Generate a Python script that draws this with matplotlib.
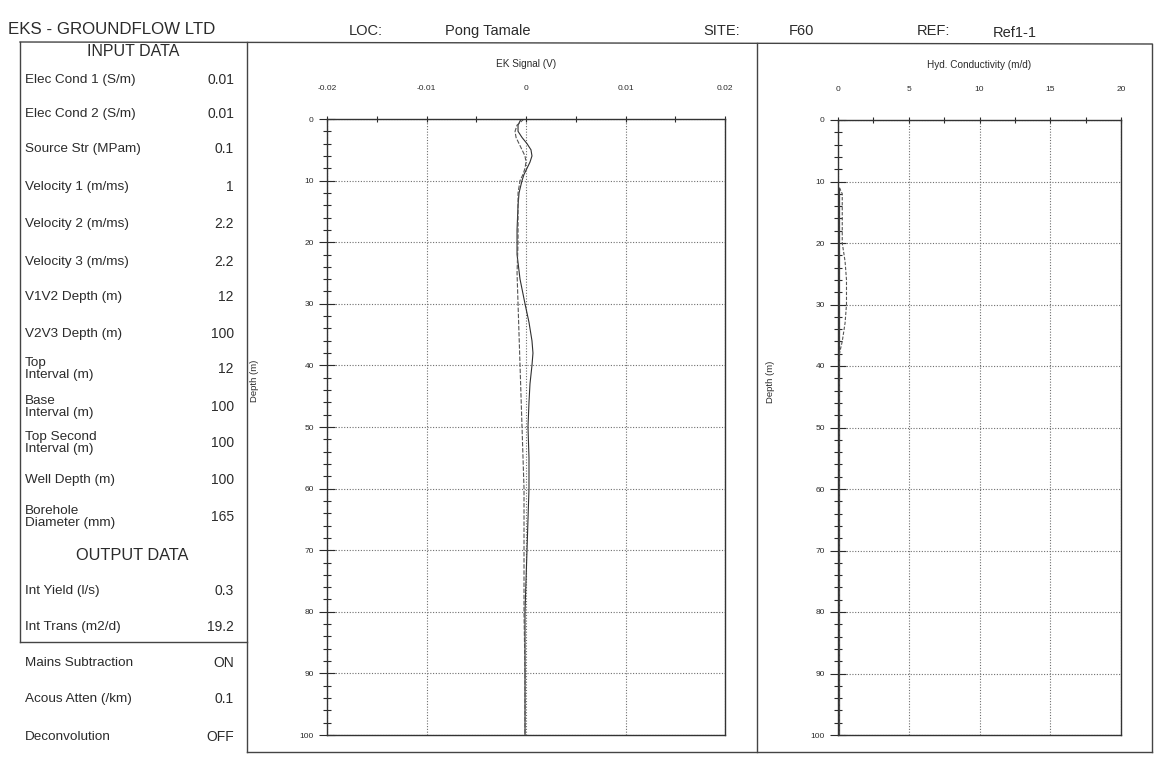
import matplotlib
matplotlib.use("Agg")
import matplotlib.pyplot as plt
from matplotlib.lines import Line2D
from matplotlib.ticker import MultipleLocator

# ---------------- data ----------------
company = "EKS - GROUNDFLOW LTD"
header_keys = ["LOC:", "SITE:", "REF:"]
header_vals = ["Pong Tamale", "F60", "Ref1-1"]

input_labels = ["Elec Cond 1 (S/m)", "Elec Cond 2 (S/m)", "Source Str (MPam)",
                "Velocity 1 (m/ms)", "Velocity 2 (m/ms)", "Velocity 3 (m/ms)",
                "V1V2 Depth (m)", "V2V3 Depth (m)", "Top\nInterval (m)",
                "Base\nInterval (m)", "Top Second\nInterval (m)", "Well Depth (m)",
                "Borehole\nDiameter (mm)"]
input_values = ["0.01", "0.01", "0.1", "1", "2.2", "2.2", "12", "100", "12",
                "100", "100", "100", "165"]
output_labels = ["Int Yield (l/s)", "Int Trans (m2/d)"]
output_values = ["0.3", "19.2"]
setting_labels = ["Mains Subtraction", "Acous Atten (/km)", "Deconvolution"]
setting_values = ["ON", "0.1", "OFF"]

ek_ticks = [-0.02, -0.01, 0, 0.01, 0.02]
hk_ticks = [0, 5, 10, 15, 20]
depth_ticks = [0, 10, 20, 30, 40, 50, 60, 70, 80, 90, 100]

# EK signal (V) vs depth (m) - solid trace
ek_depth_a = [0, 1, 2, 3, 4, 5, 6, 7, 8, 9, 10, 12, 14, 18, 22, 26, 30, 33, 36,
              38, 40, 43, 46, 50, 55, 60, 65, 70, 75, 80, 85, 90, 95, 100]
ek_sig_a = [-0.0005, -0.0008, -0.0008, -0.0004, 0.0001, 0.0005, 0.0006, 0.0004,
            0.0001, -0.0002, -0.0004, -0.0007, -0.0008, -0.0009, -0.0009, -0.0006,
            -0.0001, 0.0003, 0.0006, 0.0007, 0.0006, 0.0004, 0.0003, 0.0002,
            0.0003, 0.0003, 0.0002, 0.0001, 0.0000, -0.0001, -0.0001, -0.0001,
            -0.0001, -0.0001]
# EK signal - dashed trace
ek_depth_b = [0, 1, 2, 3, 4, 5, 6, 7, 8, 9, 10, 12, 15, 20, 25, 30, 35, 40, 45,
              50, 55, 60, 70, 80, 90, 100]
ek_sig_b = [-0.0002, -0.0009, -0.0011, -0.0010, -0.0007, -0.0004, -0.0001, 0.0000,
            -0.0001, -0.0003, -0.0006, -0.0008, -0.0008, -0.0008, -0.0009, -0.0008,
            -0.0007, -0.0006, -0.0005, -0.0004, -0.0003, -0.0002, -0.0002, -0.0002,
            -0.0001, -0.0001]

# Hydraulic conductivity (m/d) vs depth (m)
hk_depth_a = [11, 12, 20, 30, 40, 50, 60, 70, 80, 90, 100]
hk_a = [0.1, 0.1, 0.1, 0.1, 0.1, 0.1, 0.1, 0.1, 0.1, 0.1, 0.1]
hk_depth_b = [11, 12, 16, 20, 23, 26, 30, 33, 36, 38, 40, 50, 60, 70, 80, 90, 100]
hk_b = [0.1, 0.3, 0.3, 0.3, 0.5, 0.6, 0.6, 0.5, 0.3, 0.1, 0.1, 0.1, 0.1, 0.1,
        0.1, 0.1, 0.1]

# ---------------- figure ----------------
W, H = 1160, 767
fig = plt.figure(figsize=(W / 100, H / 100), dpi=100)
fig.patch.set_facecolor("white")

PANEL_FONT = ["Liberation Sans", "DejaVu Sans"]
CHART_FONT = ["Liberation Sans", "DejaVu Sans"]
INK = "#2b2b2b"


def fx(x):
    return x / W


def fy(y):
    return 1 - y / H


def line(x0, y0, x1, y1, lw=1.0, color="#444444"):
    fig.add_artist(Line2D([fx(x0), fx(x1)], [fy(y0), fy(y1)],
                          transform=fig.transFigure, lw=lw, color=color))


def txt(x, y, s, size, ha="left", va="center", **kw):
    fig.text(fx(x), fy(y), s, fontsize=size, ha=ha, va=va, color=INK,
             family=PANEL_FONT, linespacing=1.0, **kw)


# frame lines
line(20, 42, 1152, 44)          # top line
line(20, 42, 20, 642)           # input box left
line(20, 642, 247, 642)         # input box bottom
line(247, 42, 247, 752)         # EK panel left
line(247, 752, 1152, 752)       # bottom line
line(757, 43, 757, 752)         # divider
line(1152, 44, 1152, 752)       # right edge

# header
txt(8, 30, company, 12.2)
txt(349, 31, header_keys[0], 10.5)
txt(445, 31, header_vals[0], 10.5)
txt(703, 31, header_keys[1], 10.5)
txt(789, 31, header_vals[1], 10.5)
txt(917, 31, header_keys[2], 10.5)
txt(993, 33, header_vals[2], 10.5)

# input / output panel
txt(133, 52, "INPUT DATA", 11.5, ha="center")
in_rows = [80, 114, 149, 187, 224, 262, 297, 334, 369, 407, 443, 480, 517]
for lab, val, y in zip(input_labels, input_values, in_rows):
    txt(25, y, lab, 9.7)
    txt(234, y, val, 10, ha="right")
txt(132, 556, "OUTPUT DATA", 11.8, ha="center")
for lab, val, y in zip(output_labels, output_values, [591, 627]):
    txt(25, y, lab, 9.7)
    txt(234, y, val, 10, ha="right")
for lab, val, y in zip(setting_labels, setting_values, [663, 699, 737]):
    txt(25, y, lab, 9.7)
    txt(234, y, val, 10, ha="right")


def make_axes(x0, x1, y0, y1):
    return fig.add_axes([fx(x0), fy(y1), fx(x1) - fx(x0), (y1 - y0) / H])


def style_axes(ax, xticks, xminor, title, ylab_x):
    ax.set_ylim(100, 0)
    ax.set_xlim(xticks[0], xticks[-1])
    ax.xaxis.tick_top()
    ax.xaxis.set_label_position("top")
    ax.set_xticks(xticks)
    ax.set_xticklabels([("%g" % t) for t in xticks], family=CHART_FONT)
    ax.xaxis.set_minor_locator(MultipleLocator(xminor))
    ax.set_yticks(depth_ticks)
    ax.set_yticklabels([str(t) for t in depth_ticks], family=CHART_FONT)
    ax.yaxis.set_minor_locator(MultipleLocator(2))
    ax.tick_params(axis="x", which="both", direction="inout", length=4.5,
                   width=0.8, colors=INK, labelsize=6, pad=17)
    ax.tick_params(axis="y", which="major", direction="inout", length=11,
                   width=0.8, colors=INK, labelsize=6, pad=4)
    ax.tick_params(axis="y", which="minor", direction="inout", length=5.5,
                   width=0.8, colors=INK)
    for sp in ax.spines.values():
        sp.set_color("#333333")
        sp.set_linewidth(1.0)
    ax.grid(True, which="major", linestyle=(0, (1, 1.5)), color="#6f6f6f",
            linewidth=0.8)
    ax.set_xlabel(title, fontsize=7.2, family=CHART_FONT, color=INK)
    ax.xaxis.set_label_coords(0.5, 1.084)
    ax.set_ylabel("Depth (m)", fontsize=6.8, family=CHART_FONT, color=INK)
    ax.yaxis.set_label_coords(ylab_x, 0.575)
    ax.set_facecolor("none")


# EK signal chart
ax1 = make_axes(327, 725, 119, 735)
ax1.plot(ek_sig_a, ek_depth_a, color="#303030", lw=0.8, ls="-")
ax1.plot(ek_sig_b, ek_depth_b, color="#555555", lw=0.8, ls=(0, (4, 1.5)))
style_axes(ax1, ek_ticks, 0.005, "EK Signal (V)", -0.172)

# Hydraulic conductivity chart
ax2 = make_axes(838, 1121, 120, 735)
ax2.plot(hk_a, hk_depth_a, color="#404040", lw=0.9, ls="-")
ax2.plot(hk_b, hk_depth_b, color="#555555", lw=0.8, ls=(0, (3, 1.5)))
style_axes(ax2, hk_ticks, 2.5, "Hyd. Conductivity (m/d)", -0.222)

fig.savefig("out.png", dpi=100, facecolor="white")
